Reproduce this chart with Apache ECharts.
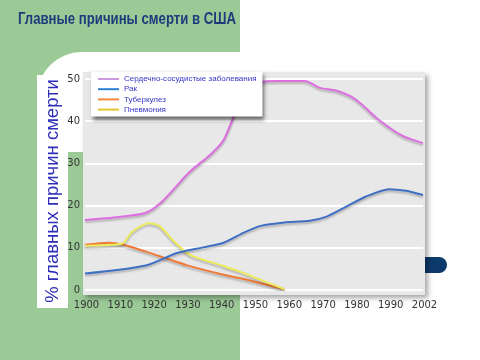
<!DOCTYPE html>
<html><head><meta charset="utf-8">
<script src="https://cdn.jsdelivr.net/npm/echarts@6/dist/echarts.min.js"></script>
<style>html,body{margin:0;padding:0;background:#fff}#c{width:480px;height:360px}</style>
</head><body><div id="c"></div>
<script>
const chartTitle = 'Главные причины смерти в США';
const yTitle = '% главных причин смерти';
const seriesNames = ['Сердечно-сосудистые заболевания', 'Рак', 'Туберкулез', 'Пневмония'];
const xTickLabels = ['1900','1910','1920','1930','1940','1950','1960','1970','1980','1990','2002'];

const cardioX = [1900, 1910, 1918, 1923, 1931, 1937, 1941, 1944, 1948, 1952, 1957, 1965, 1969.5, 1974.5, 1980, 1987, 1994, 2000];
const cardioY = [16.6, 17.3, 18.3, 21.1, 28.0, 32.0, 35.5, 41.0, 47.5, 49.2, 49.5, 49.5, 47.9, 47.2, 45.2, 40.3, 36.5, 34.8];

const cancerX = [1900, 1918, 1927, 1935, 1941, 1947, 1952, 1959, 1966.5, 1971.5, 1976.5, 1983, 1990, 1995, 2000];
const cancerY = [3.9, 5.8, 8.7, 10.1, 11.2, 13.6, 15.2, 16.0, 16.4, 17.4, 19.4, 22.1, 23.9, 23.5, 22.5];

const tbX = [1900, 1907, 1911, 1918, 1924, 1930, 1941, 1946, 1952, 1959];
const tbY = [10.7, 11.2, 10.8, 9.1, 7.5, 5.9, 3.6, 2.8, 1.6, 0.2];

const pnX = [1900, 1911, 1914, 1919, 1922, 1926, 1931, 1941, 1946, 1952, 1959];
const pnY = [10.5, 11.0, 13.8, 15.8, 15.2, 11.8, 8.3, 5.7, 4.3, 2.4, 0.2];

const lineColors = ['#dd6ee0', '#3f6fc2', '#ef7a35', '#ecec5a'];
const legendColors = ['#cc99e0', '#2a7fd6', '#f5893a', '#e6c52c'];

function pairs(xs, ys){ return xs.map((x,i)=>[x, ys[i]]); }
const seriesData = [pairs(cardioX,cardioY), pairs(cancerX,cancerY), pairs(tbX,tbY), pairs(pnX,pnY)];

const chart = echarts.init(document.getElementById('c'), null, {renderer:'canvas'});
const green = '#9bca97';
chart.setOption({
  backgroundColor: '#ffffff',
  animation: false,
  graphic: [
    {type:'rect', z:-10, silent:true, shape:{x:0,y:0,width:240,height:360}, style:{fill:green}},
    {type:'rect', z:-9, silent:true, shape:{x:37,y:52,width:443,height:100,r:[45,0,0,30]}, style:{fill:'#ffffff'}},
    {type:'rect', z:-9, silent:true, shape:{x:240,y:52,width:240,height:308}, style:{fill:'#ffffff'}},
    {type:'rect', z:-8, silent:true, shape:{x:37,y:75,width:31,height:233}, style:{fill:'#ffffff'}},
    {type:'rect', z:-8, silent:true, shape:{x:424,y:257,width:23,height:16,r:[0,8,8,0]}, style:{fill:'#0c3a6c'}},
    {type:'rect', z:-7, silent:true, shape:{x:83,y:72,width:342,height:223},
      style:{fill:'#e8e8e8', shadowColor:'rgba(0,0,0,0.35)', shadowBlur:5, shadowOffsetX:3, shadowOffsetY:3}},
    {type:'text', z:5, silent:true, x:18, y:19, scaleX:0.775,
      style:{text:chartTitle, fontFamily:'Liberation Sans', fontWeight:'bold', fontSize:17, fill:'#1d3c7c', align:'left', verticalAlign:'middle'}},
    {type:'text', z:5, silent:true, x:53, y:191, rotation:Math.PI/2,
      style:{text:yTitle, fontFamily:'Liberation Sans', fontSize:18.5, fill:'#2e2eb8', align:'center', verticalAlign:'middle'}}
  ],
  legend: {
    orient:'vertical', left:91, top:72,
    backgroundColor:'#ffffff', padding:[2,6,2,7],
    shadowColor:'rgba(0,0,0,0.55)', shadowBlur:4, shadowOffsetX:2, shadowOffsetY:3,
    itemWidth:21, itemHeight:2, itemGap:0.2, icon:'rect',
    textStyle:{fontFamily:'Liberation Sans', fontSize:8, color:'#3535c8', lineHeight:10, padding:[0,0,0,0]},
    data: seriesNames.map((n,i)=>({name:n, itemStyle:{color:legendColors[i]}}))
  },
  grid: {left:85, right:57, top:79, bottom:70, containLabel:false},
  xAxis: {
    type:'value', min:1900, max:2000, interval:10,
    axisLine:{show:false}, axisTick:{show:false}, splitLine:{show:false},
    axisLabel:{margin:10, fontFamily:'DejaVu Sans', fontSize:10, color:'#333333', padding:[0,0,0,3],
      formatter:(v)=>xTickLabels[Math.round((v-1900)/10)]}
  },
  yAxis: {
    type:'value', min:0, max:50, interval:10,
    axisLine:{show:false}, axisTick:{show:false},
    splitLine:{show:true, lineStyle:{color:'#ffffff', width:2}},
    axisLabel:{margin:5, fontFamily:'DejaVu Sans', fontSize:10, color:'#333333'}
  },
  series: seriesNames.map((n,i)=>({
    name:n, type:'line', data:seriesData[i], showSymbol:false, symbol:'none', smooth:0.25,
    z: [2,4,2,3][i],
    color: lineColors[i],
    lineStyle:{color:lineColors[i], width:2, shadowColor:'rgba(0,0,0,0.25)', shadowBlur:2, shadowOffsetY:2}
  }))
});
</script></body></html>
